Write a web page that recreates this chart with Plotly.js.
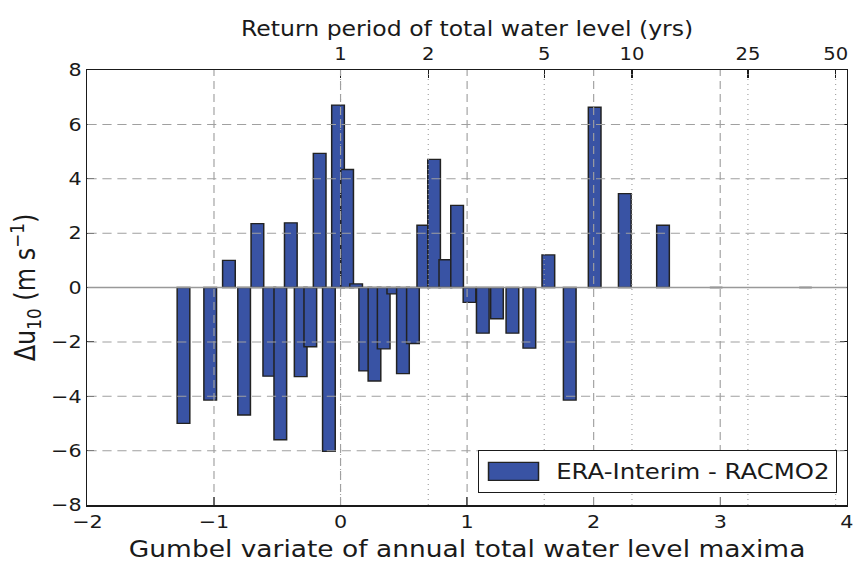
<!DOCTYPE html>
<html>
<head>
<meta charset="utf-8">
<script src="https://cdn.plot.ly/plotly-3.0.1.min.js"></script>
<style>
html,body{margin:0;padding:0;background:#fff;overflow:hidden;}
/* the reference figure is horizontally stretched (~1.15x); reproduce that */
#chart{width:744px;height:567px;transform:scaleX(1.1505);transform-origin:0 0;}
</style>
</head>
<body>
<div id="chart"></div>
<script>
// Gumbel variate (left edge of each bar)
var gumbelX = [-1.291, -1.080, -0.932, -0.812, -0.707, -0.613, -0.526, -0.443, -0.365, -0.289,
  -0.215, -0.142, -0.070, 0.002, 0.073, 0.145, 0.218, 0.291, 0.367, 0.443,
  0.522, 0.604, 0.689, 0.778, 0.871, 0.969, 1.074, 1.186, 1.308, 1.442,
  1.592, 1.761, 1.958, 2.196, 2.498, 2.918, 3.624];
// Delta u10 (m/s), ERA-Interim - RACMO2
var deltaU10 = [-5.0, -4.14, 1.0, -4.69, 2.35, -3.26, -5.6, 2.38, -3.28, -2.18,
  4.93, -6.03, 6.71, 4.34, 0.13, -3.07, -3.44, -2.26, -0.235, -3.17,
  -2.06, 2.29, 4.71, 1.02, 3.02, -0.55, -1.68, -1.15, -1.68, -2.23,
  1.20, -4.14, 6.63, 3.45, 2.29, 0.0, 0.0];
var seriesName = 'ERA-Interim - RACMO2';
var returnPeriods = [1, 2, 5, 10, 25, 50];
var returnLabels = ['1', '2', '5', '10', '25', '50'];
var xTicks = [-2, -1, 0, 1, 2, 3, 4];
var xTickLabels = ['\u22122', '\u22121', '0', '1', '2', '3', '4'];
var yTicks = [-8, -6, -4, -2, 0, 2, 4, 6, 8];
var yTickLabels = ['\u22128', '\u22126', '\u22124', '\u22122', '0', '2', '4', '6', '8'];

var SX = 1.1505;
var FONT = 'DejaVu Sans, sans-serif';
var INK = '#1a1a1a';
var GRID = '#a0a0a0';
var xRange = [-2, 4], yRange = [-8, 8];
var topTickVals = returnPeriods.map(function (t) { return Math.log(t); });

var shapes = [];
// grid drawn above the bars, as in the reference
xTicks.forEach(function (v) {
  if (v > xRange[0] && v < xRange[1]) shapes.push({type: 'line', xref: 'x', yref: 'paper', x0: v, x1: v, y0: 0, y1: 1,
    layer: 'above', line: {color: GRID, width: 1, dash: '8px,5px'}});
});
yTicks.forEach(function (v) {
  if (v > yRange[0] && v < yRange[1] && v !== 0) shapes.push({type: 'line', xref: 'paper', yref: 'y', x0: 0, x1: 1, y0: v, y1: v,
    layer: 'above', line: {color: GRID, width: 1, dash: '8px,5px'}});
});
topTickVals.forEach(function (v) {
  shapes.push({type: 'line', xref: 'x', yref: 'paper', x0: v, x1: v, y0: 0, y1: 1,
    layer: 'above', line: {color: GRID, width: 1, dash: '1px,4px'}});
});
// zero line
shapes.push({type: 'line', xref: 'paper', yref: 'y', x0: 0, x1: 1, y0: 0, y1: 0,
  layer: 'above', line: {color: '#999999', width: 1.5}});

var trace = {
  type: 'bar', x: gumbelX, y: deltaU10, name: seriesName,
  offset: 0, width: 0.1,
  marker: {color: '#3953a4', line: {color: '#222222', width: 1.3}},
  showlegend: true, hoverinfo: 'x+y'
};
var dummyTop = {type: 'scatter', x: [xRange[0]], y: [0], xaxis: 'x2', yaxis: 'y',
  mode: 'markers', marker: {opacity: 0}, showlegend: false, hoverinfo: 'skip'};

var layout = {
  width: 744, height: 567,
  margin: {l: 75.6, r: 7.8, t: 70, b: 62, pad: 0},
  paper_bgcolor: '#ffffff', plot_bgcolor: '#ffffff',
  font: {family: FONT, size: 18, color: INK},
  bargap: 0,
  xaxis: {
    range: xRange, tickvals: xTicks, ticktext: xTickLabels,
    showgrid: false, zeroline: false,
    showline: true, linecolor: INK, linewidth: 1.5, mirror: true,
    ticks: 'inside', ticklen: 8, tickwidth: 1.1, tickcolor: INK,
    tickfont: {family: FONT, size: 18, color: INK},
    title: {text: 'Gumbel variate of annual total water level maxima', font: {family: FONT, size: 23, color: INK}, standoff: 10}
  },
  xaxis2: {
    overlaying: 'x', side: 'top', anchor: 'y', range: xRange,
    tickvals: topTickVals, ticktext: returnLabels,
    showgrid: false, zeroline: false, showline: false,
    ticks: 'inside', ticklen: 8, tickwidth: 1.1, tickcolor: INK,
    ticklabelstandoff: 6,
    tickfont: {family: FONT, size: 17, color: INK},
    title: {text: 'Return period of total water level (yrs)', font: {family: FONT, size: 20.5, color: INK}, standoff: 1}
  },
  yaxis: {
    range: yRange, tickvals: yTicks, ticktext: yTickLabels,
    showgrid: false, zeroline: false,
    showline: true, linecolor: INK, linewidth: 1.5, mirror: 'ticks',
    ticks: 'inside', ticklen: 6, tickwidth: 1.1, tickcolor: INK,
    tickfont: {family: FONT, size: 18, color: INK},
    title: {text: '\u0394u<sub>10</sub> (m s<sup>\u22121</sup>)', font: {family: FONT, size: 24, color: INK}, standoff: 6}
  },
  legend: {
    x: 0.987, y: 0.028, xanchor: 'right', yanchor: 'bottom',
    bgcolor: '#ffffff', bordercolor: INK, borderwidth: 1,
    itemwidth: 57,
    font: {family: FONT, size: 21.2, color: INK}
  },
  shapes: shapes
};

Plotly.newPlot('chart', [trace, dummyTop], layout, {displayModeBar: false, staticPlot: true}).then(function (gd) {
  // widen the legend patch to the wide rectangle of the reference
  var bg = gd.querySelector('.legend .bg');
  var sym = gd.querySelector('.legend .legendpoints path');
  if (!bg || !sym) return;
  var b = bg.getBoundingClientRect();
  var s = sym.getBoundingClientRect();
  var cx = (s.left + s.right) / 2, cy = (s.top + s.bottom) / 2;
  var left = (b.left + 10 - cx) / SX, right = (b.left + 60 - cx) / SX;
  var top = (b.top + b.height / 2 - 9) - cy, bot = (b.top + b.height / 2 + 9) - cy;
  sym.setAttribute('d', 'M' + left + ',' + bot + 'H' + right + 'V' + top + 'H' + left + 'Z');
});
</script>
</body>
</html>
